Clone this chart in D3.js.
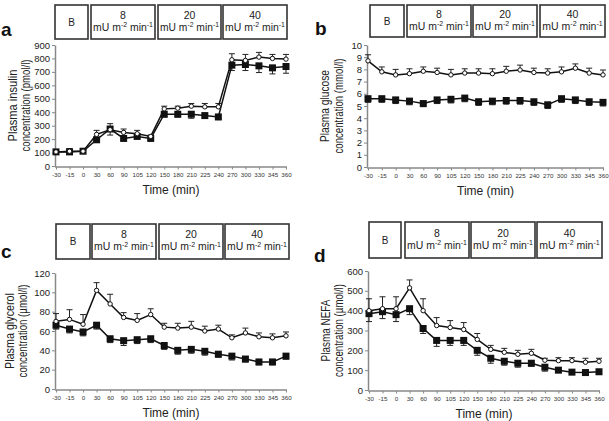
<!DOCTYPE html>
<html><head><meta charset="utf-8">
<script src="https://cdn.jsdelivr.net/npm/d3@7"></script>
<style>body{margin:0;background:#fff}svg{display:block;font-family:"Liberation Sans",Arial,sans-serif;font-weight:normal}</style>
</head><body>
<script>
const times = ["-30","-15","0","30","60","90","105","120","150","180","210","225","240","270","300","330","345","360"];
const phases = [["B",""],["8","mU m-2 min-1"],["20","mU m-2 min-1"],["40","mU m-2 min-1"]];

const insulinOpen   = [105,110,110,235,270,250,240,220,425,430,445,440,440,790,785,810,800,795];
const insulinOpenErr= [10,20,10,30,45,25,25,10,20,15,20,25,25,45,45,35,30,35];
const insulinFilled = [105,105,110,195,275,205,220,205,385,385,385,375,365,750,755,745,730,740];
const insulinFilledErr=[10,10,10,15,45,15,15,10,20,20,30,15,20,40,45,50,45,50];

const glucoseOpen   = [8.7,7.8,7.55,7.65,7.85,7.75,7.55,7.7,7.7,7.65,7.85,7.95,7.75,7.7,7.8,8.1,7.7,7.55];
const glucoseOpenErr= [0.5,0.4,0.45,0.4,0.35,0.35,0.45,0.35,0.35,0.4,0.4,0.4,0.35,0.35,0.4,0.35,0.4,0.4];
const glucoseFilled = [5.6,5.6,5.5,5.4,5.2,5.5,5.55,5.65,5.35,5.4,5.45,5.45,5.35,5.1,5.6,5.5,5.35,5.3];
const glucoseFilledErr=[0.3,0.3,0.3,0.3,0.25,0.3,0.3,0.3,0.3,0.3,0.3,0.3,0.3,0.3,0.3,0.3,0.3,0.3];

const glycerolOpen   = [70,72,67,102,88,74,71,77,64,63,64,60,62,53,58,54,53,55];
const glycerolOpenErr= [8,10,10,8,10,5,7,6,4,5,6,5,4,3,5,4,4,4];
const glycerolFilled = [66,62,59,66,52,50,51,52,45,40,41,39,36,34,31,28,28,34];
const glycerolFilledErr=[4,4,4,4,4,5,4,4,4,4,4,4,3,4,3,3,3,3];

const nefaOpen   = [400,410,410,515,400,325,315,305,255,205,190,180,185,150,148,148,140,145];
const nefaOpenErr= [60,60,60,40,60,40,35,35,30,20,20,20,20,10,15,15,20,15];
const nefaFilled = [385,395,380,410,310,250,250,250,200,160,145,135,135,115,100,90,88,92];
const nefaFilledErr=[40,35,35,30,25,30,25,25,25,25,20,20,15,20,10,10,10,10];

const svg = d3.select("body").append("svg").attr("width",609).attr("height",421);

function fitWidth(sel, target){
  // condense text horizontally (in its own frame) to approximate the narrow original face
  const w = sel.node().getComputedTextLength();
  return w > target ? target / w : 1;
}

function panel(cfg){
  const g = svg.append("g");
  const x = d3.scalePoint().domain(times).range([cfg.x0, cfg.x1]);
  const y = d3.scaleLinear().domain(cfg.domain).range([cfg.yBot, cfg.yTop]);
  cfg.boxes.forEach((b,i)=>{
    g.append("rect").attr("x",b[0]+1).attr("y",cfg.by0+1).attr("width",b[1]-b[0]-2).attr("height",cfg.by1-cfg.by0-2)
      .attr("fill","#fff").attr("stroke","#333").attr("stroke-width",1.6);
    const cx=(b[0]+b[1])/2, cy=(cfg.by0+cfg.by1)/2;
    const p = phases[i];
    if(!p[1]){
      g.append("text").attr("x",cx).attr("y",cy+3.5).attr("text-anchor","middle").attr("font-size",10).attr("fill","#222").text(p[0]);
    } else {
      g.append("text").attr("x",cx).attr("y",cy-3.5).attr("text-anchor","middle").attr("font-size",10.5).attr("fill","#222").text(p[0]);
      const t = g.append("text").attr("text-anchor","middle").attr("font-size",10.5).attr("fill","#222");
      t.append("tspan").text("mU m");
      t.append("tspan").attr("font-size",7).attr("dy",-3.5).text("-2");
      t.append("tspan").attr("dy",3.5).text(" min");
      t.append("tspan").attr("font-size",7).attr("dy",-3.5).text("-1");
      const s = fitWidth(t, b[1]-b[0]-6);
      t.attr("transform",`translate(${cx},${cy+8.5}) scale(${s},1)`);
    }
  });
  g.append("text").attr("x",cfg.lx).attr("y",cfg.ly).attr("font-size",19).attr("font-weight","bold").attr("fill","#111").text(cfg.letter);
  const ya = g.append("g").attr("transform",`translate(${cfg.x0-1},0)`)
    .call(d3.axisLeft(y).tickValues(d3.range(cfg.domain[0],cfg.domain[1]+1e-9,cfg.step)).tickSize(3).tickSizeOuter(0).tickPadding(2));
  ya.select(".domain").attr("stroke","#888").attr("stroke-width",1.5);
  ya.selectAll(".tick line").attr("stroke","#888");
  ya.selectAll("text").attr("font-size",9.5).attr("fill","#222").attr("font-family","Liberation Sans, Arial, sans-serif");
  const xa = g.append("g").attr("transform",`translate(0,${cfg.yBot+1})`)
    .call(d3.axisBottom(x).tickSize(2.5).tickSizeOuter(0).tickPadding(3));
  xa.select(".domain").attr("d",`M${cfg.x0-1},0H${cfg.x1+1}`).attr("stroke","#888").attr("stroke-width",1.5);
  xa.selectAll(".tick line").attr("stroke","#888");
  xa.selectAll("text").attr("font-size",6.2).attr("fill","#333").attr("font-family","Liberation Sans, Arial, sans-serif");
  g.append("text").attr("x",(cfg.x0+cfg.x1)/2).attr("y",cfg.yBot+28).attr("text-anchor","middle").attr("font-size",12).attr("fill","#222").text("Time (min)");
  const ymid=(cfg.yTop+cfg.yBot)/2;
  cfg.ylab.forEach((s,i)=>{
    const t = g.append("text").attr("text-anchor","middle")
      .attr("font-size",12).attr("fill","#222").attr("dy","0.35em").text(s);
    const k = fitWidth(t, cfg.ylw[i]);
    t.attr("transform",`translate(${cfg.ylx[i]},${ymid}) rotate(-90) scale(${k},1)`);
  });
  const line = d3.line().x((d,i)=>x(times[i])).y(d=>y(d));
  function errs(vals,err,dir){
    vals.forEach((v,i)=>{
      const xx=x(times[i]), y1=y(v), y2=y(v+dir*err[i]);
      g.append("line").attr("x1",xx).attr("x2",xx).attr("y1",y1).attr("y2",y2).attr("stroke","#222").attr("stroke-width",1);
      g.append("line").attr("x1",xx-3).attr("x2",xx+3).attr("y1",y2).attr("y2",y2).attr("stroke","#222").attr("stroke-width",1);
    });
  }
  errs(cfg.open,cfg.openErr,1);
  errs(cfg.filled,cfg.filledErr,-1);
  g.append("path").attr("d",line(cfg.open)).attr("fill","none").attr("stroke","#111").attr("stroke-width",1.5);
  g.append("path").attr("d",line(cfg.filled)).attr("fill","none").attr("stroke","#111").attr("stroke-width",1.5);
  cfg.filled.forEach((v,i)=>{
    g.append("rect").attr("x",x(times[i])-3.5).attr("y",y(v)-3.5).attr("width",7).attr("height",7).attr("fill","#111");
  });
  cfg.open.forEach((v,i)=>{
    g.append("circle").attr("cx",x(times[i])).attr("cy",y(v)).attr("r",2.2).attr("fill","#fff").attr("stroke","#111").attr("stroke-width",1);
  });
}

panel({letter:"a",lx:1,ly:36,x0:56,x1:286,yTop:45,yBot:166,domain:[0,900],step:100,
  by0:4,by1:40,boxes:[[54,89],[90,156],[157,222],[222,288]],
  ylab:["Plasma insulin","concentration (pmol/l)"],ylx:[13,26],ylw:[72,92],
  open:insulinOpen,openErr:insulinOpenErr,filled:insulinFilled,filledErr:insulinFilledErr});
panel({letter:"b",lx:315,ly:35,x0:368,x1:603,yTop:45,yBot:167,domain:[0,10],step:1,
  by0:4,by1:38,boxes:[[369,405],[406,472],[472,538],[539,606]],
  ylab:["Plasma glucose","concentration (mmol/l)"],ylx:[325,339],ylw:[72,95],
  open:glucoseOpen,openErr:glucoseOpenErr,filled:glucoseFilled,filledErr:glucoseFilledErr});
panel({letter:"c",lx:1,ly:258,x0:56,x1:286,yTop:273,yBot:389,domain:[0,120],step:20,
  by0:223,by1:260,boxes:[[55,91],[91,157],[158,224],[224,290]],
  ylab:["Plasma glycerol","concentration (µmol/l)"],ylx:[10,23],ylw:[76,93],
  open:glycerolOpen,openErr:glycerolOpenErr,filled:glycerolFilled,filledErr:glycerolFilledErr});
panel({letter:"d",lx:314,ly:262,x0:369,x1:599,yTop:271,yBot:390,domain:[0,600],step:100,
  by0:221,by1:259,boxes:[[368,402],[404,470],[470,536],[536,603]],
  ylab:["Plasma NEFA","concentration (µmol/l)"],ylx:[326,339],ylw:[62,93],
  open:nefaOpen,openErr:nefaOpenErr,filled:nefaFilled,filledErr:nefaFilledErr});
</script>
</body></html>
